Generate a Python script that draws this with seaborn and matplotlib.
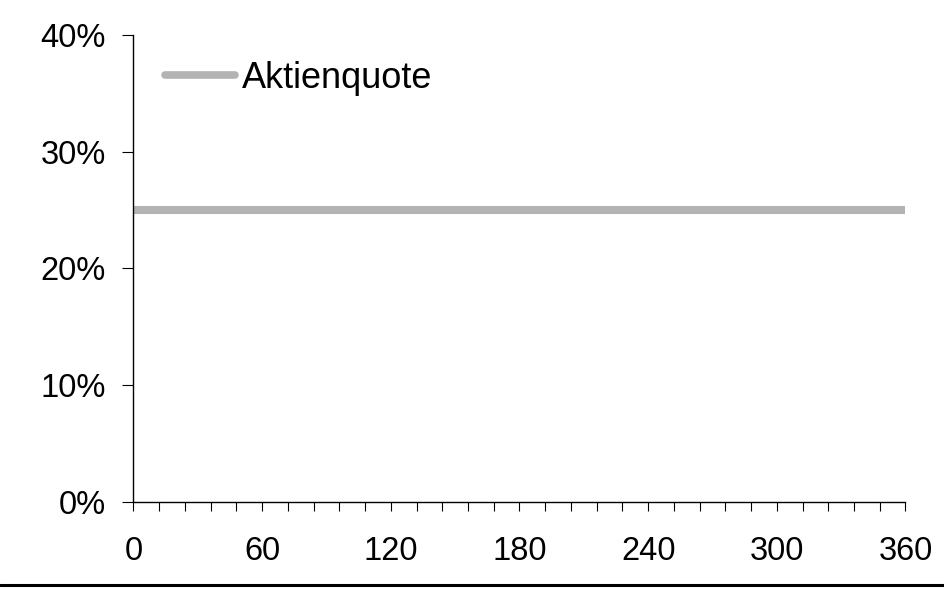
import matplotlib
matplotlib.use("Agg")
import matplotlib.pyplot as plt
from matplotlib.ticker import MultipleLocator, PercentFormatter
from matplotlib.lines import Line2D
import seaborn as sns
import pandas as pd

# Data
months = [0, 200, 360]
aktienquote = [0.25, 0.25, 0.25]
series_name = "Aktienquote"
y_ticks = [0.0, 0.1, 0.2, 0.3, 0.4]
x_major = 60
x_minor = 12

df = pd.DataFrame({"Monat": months, "Quote": aktienquote, "Serie": series_name})

sns.set_theme(style="white")
plt.rcParams["font.family"] = ["Liberation Sans", "DejaVu Sans"]
plt.rcParams["text.color"] = "black"

FS = 23.5
LFS = 26

fig = plt.figure(figsize=(9.44, 5.89), dpi=100)
ax = fig.add_axes([0.1414, 0.1477, 0.9592 - 0.1414, 0.9406 - 0.1477])

sns.lineplot(data=df, x="Monat", y="Quote", hue="Serie", palette=["#b3b3b3"],
             linewidth=5.8, ax=ax, solid_capstyle="butt")

ax.set_xlim(0, 360)
ax.set_ylim(0, 0.4)
ax.set_xlabel("")
ax.set_ylabel("")
ax.set_yticks(y_ticks)
ax.yaxis.set_major_formatter(PercentFormatter(1.0, decimals=0))
ax.xaxis.set_major_locator(MultipleLocator(x_major))
ax.xaxis.set_minor_locator(MultipleLocator(x_minor))

for s in ["top", "right"]:
    ax.spines[s].set_visible(False)
for s in ["left", "bottom"]:
    ax.spines[s].set_color("black")
    ax.spines[s].set_linewidth(1.0)

ax.tick_params(axis="x", which="both", direction="out", length=6.5, width=0.8,
               color="black", bottom=True, labelsize=FS, pad=18, labelcolor="black")
ax.tick_params(axis="y", which="major", direction="out", length=8, width=0.8,
               color="black", left=True, labelsize=FS, pad=12, labelcolor="black")

leg = ax.legend(loc="upper left", bbox_to_anchor=(0.041, 0.945), frameon=False,
                fontsize=LFS, handlelength=1.94, handletextpad=0.19,
                borderaxespad=0, borderpad=0)
for t in leg.get_texts():
    t.set_color("black")
for h in leg.get_lines():
    h.set_linewidth(5.5)
    h.set_solid_capstyle("round")

fig.add_artist(Line2D([0, 1], [0.0076, 0.0076], transform=fig.transFigure,
                      color="black", linewidth=2.2))

fig.savefig("out.png", dpi=100)
